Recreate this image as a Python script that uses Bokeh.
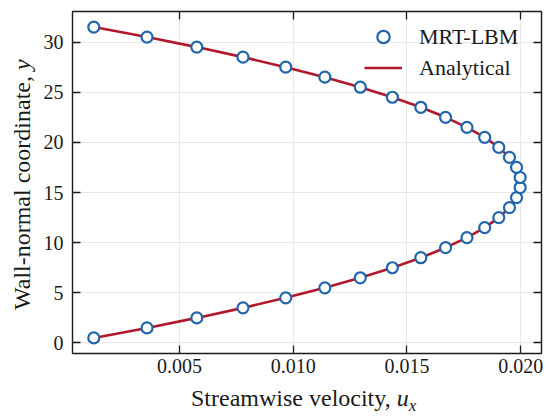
from bokeh.plotting import figure
from bokeh.models import (Range1d, LinearAxis, Legend, LegendItem,
                          FixedTicker, Div)
from bokeh.layouts import row, column
from bokeh.embed import file_html
from bokeh.resources import INLINE

# ---- data ----
y_lbm = [0.5, 1.5, 2.5, 3.5, 4.5, 5.5, 6.5, 7.5, 8.5, 9.5, 10.5, 11.5,
         12.5, 13.5, 14.5, 15.5, 16.5, 17.5, 18.5, 19.5, 20.5, 21.5, 22.5,
         23.5, 24.5, 25.5, 26.5, 27.5, 28.5, 29.5, 30.5, 31.5]
ux_lbm = [0.00123, 0.00357, 0.00576, 0.00779, 0.00967, 0.01139, 0.01295,
          0.01436, 0.01561, 0.01670, 0.01764, 0.01842, 0.01904, 0.01951,
          0.01982, 0.01998, 0.01998, 0.01982, 0.01951, 0.01904, 0.01842,
          0.01764, 0.01670, 0.01561, 0.01436, 0.01295, 0.01139, 0.00967,
          0.00779, 0.00576, 0.00357, 0.00123]
y_ana = [0.5, 1.5, 2.5, 3.5, 4.5, 5.5, 6.5, 7.5, 8.5, 9.5, 10.5, 11.5,
         12.5, 13.5, 14.5, 15.5, 16.0, 16.5, 17.5, 18.5, 19.5, 20.5, 21.5,
         22.5, 23.5, 24.5, 25.5, 26.5, 27.5, 28.5, 29.5, 30.5, 31.5]
ux_ana = [0.00123, 0.00357, 0.00576, 0.00779, 0.00967, 0.01139, 0.01295,
          0.01436, 0.01561, 0.01670, 0.01764, 0.01842, 0.01904, 0.01951,
          0.01982, 0.01998, 0.02000, 0.01998, 0.01982, 0.01951, 0.01904,
          0.01842, 0.01764, 0.01670, 0.01561, 0.01436, 0.01295, 0.01139,
          0.00967, 0.00779, 0.00576, 0.00357, 0.00123]
x_ticks = [0.005, 0.010, 0.015, 0.020]
x_tick_labels = ["0.005", "0.010", "0.015", "0.020"]
y_ticks = [0, 5, 10, 15, 20, 25, 30]
y_tick_labels = ["0", "5", "10", "15", "20", "25", "30"]
legend_labels = ["MRT-LBM", "Analytical"]
x_title = "Streamwise velocity, "
x_title_var, x_title_sub = "u", "x"
y_title = "Wall-normal coordinate, "
y_title_var = "y"

FONT = "serif"
BLUE = "#2166ac"
RED = "#b2182b"
INK = "#1a1a1a"

p = figure(frame_width=469, frame_height=342,
           min_border_left=32, min_border_right=9,
           min_border_top=11, min_border_bottom=32,
           x_range=Range1d(0.000293, 0.020918),
           y_range=Range1d(-1.05, 33.05),
           output_backend="svg", toolbar_location=None)

p.outline_line_color = INK
p.outline_line_width = 1.4

for g in p.xgrid + p.ygrid:
    g.grid_line_color = "#e8e8e8"
    g.grid_line_width = 1
p.xgrid.ticker = FixedTicker(ticks=x_ticks)
p.ygrid.ticker = FixedTicker(ticks=y_ticks)

def style_axis(ax, ticks, labels, show_labels, standoff):
    ax.ticker = FixedTicker(ticks=ticks, minor_ticks=[])
    ax.axis_line_color = None
    ax.major_tick_in = 8
    ax.major_tick_out = 0
    ax.minor_tick_in = 0
    ax.minor_tick_out = 0
    ax.major_tick_line_color = INK
    ax.major_tick_line_width = 1.3
    ax.axis_label = None
    if show_labels:
        ax.major_label_overrides = {t: l for t, l in zip(ticks, labels)}
        ax.major_label_text_font = FONT
        ax.major_label_text_font_size = "20px"
        ax.major_label_text_color = INK
        ax.major_label_standoff = standoff
    else:
        ax.major_label_text_color = None
        ax.major_label_text_font_size = "1px"
        ax.major_label_standoff = 0

style_axis(p.xaxis[0], x_ticks, x_tick_labels, True, 5)
style_axis(p.yaxis[0], y_ticks, y_tick_labels, True, 9)
top = LinearAxis()
style_axis(top, x_ticks, x_tick_labels, False, 0)
right = LinearAxis()
style_axis(right, y_ticks, y_tick_labels, False, 0)
p.add_layout(top, "above")
p.add_layout(right, "right")

r_line = p.line(ux_ana, y_ana, line_color=RED, line_width=2.6)
r_pts = p.scatter(ux_lbm, y_lbm, size=11, marker="circle",
                  fill_color="white", line_color=BLUE, line_width=2.2)

legend = Legend(items=[LegendItem(label=legend_labels[0], renderers=[r_pts]),
                       LegendItem(label=legend_labels[1], renderers=[r_line])],
                location="top_right", margin=10, padding=10, spacing=0,
                glyph_width=38, glyph_height=31, label_standoff=17,
                label_width=112,
                border_line_color=None,
                background_fill_alpha=0,
                label_text_font=FONT, label_text_font_size="22px",
                label_text_color=INK)
p.add_layout(legend)

base = ("font-family:serif; font-size:24px; line-height:24px;"
        " white-space:nowrap; color:%s;" % INK)

xdiv = Div(width=510, height=31, margin=(0, 0, 0, 0),
           text=('<div style="%s padding-left:151px; padding-top:1px;">%s'
                 '<i>%s</i><span style="font-size:17px; font-style:italic;'
                 ' position:relative; top:5px;">%s</span></div>')
           % (base, x_title, x_title_var, x_title_sub))
ydiv = Div(width=40, height=416, margin=(0, 0, 0, 0),
           text=('<div style="position:relative; left:10px; top:310px;'
                 ' width:0; height:0;"><div style="%s transform-origin:0 0;'
                 ' transform:rotate(-90deg);">%s<i>%s</i></div></div>')
           % (base, y_title, y_title_var))

layout = row(ydiv, column(p, xdiv, spacing=0), spacing=0)
open("out.html", "w").write(file_html(layout, INLINE))
